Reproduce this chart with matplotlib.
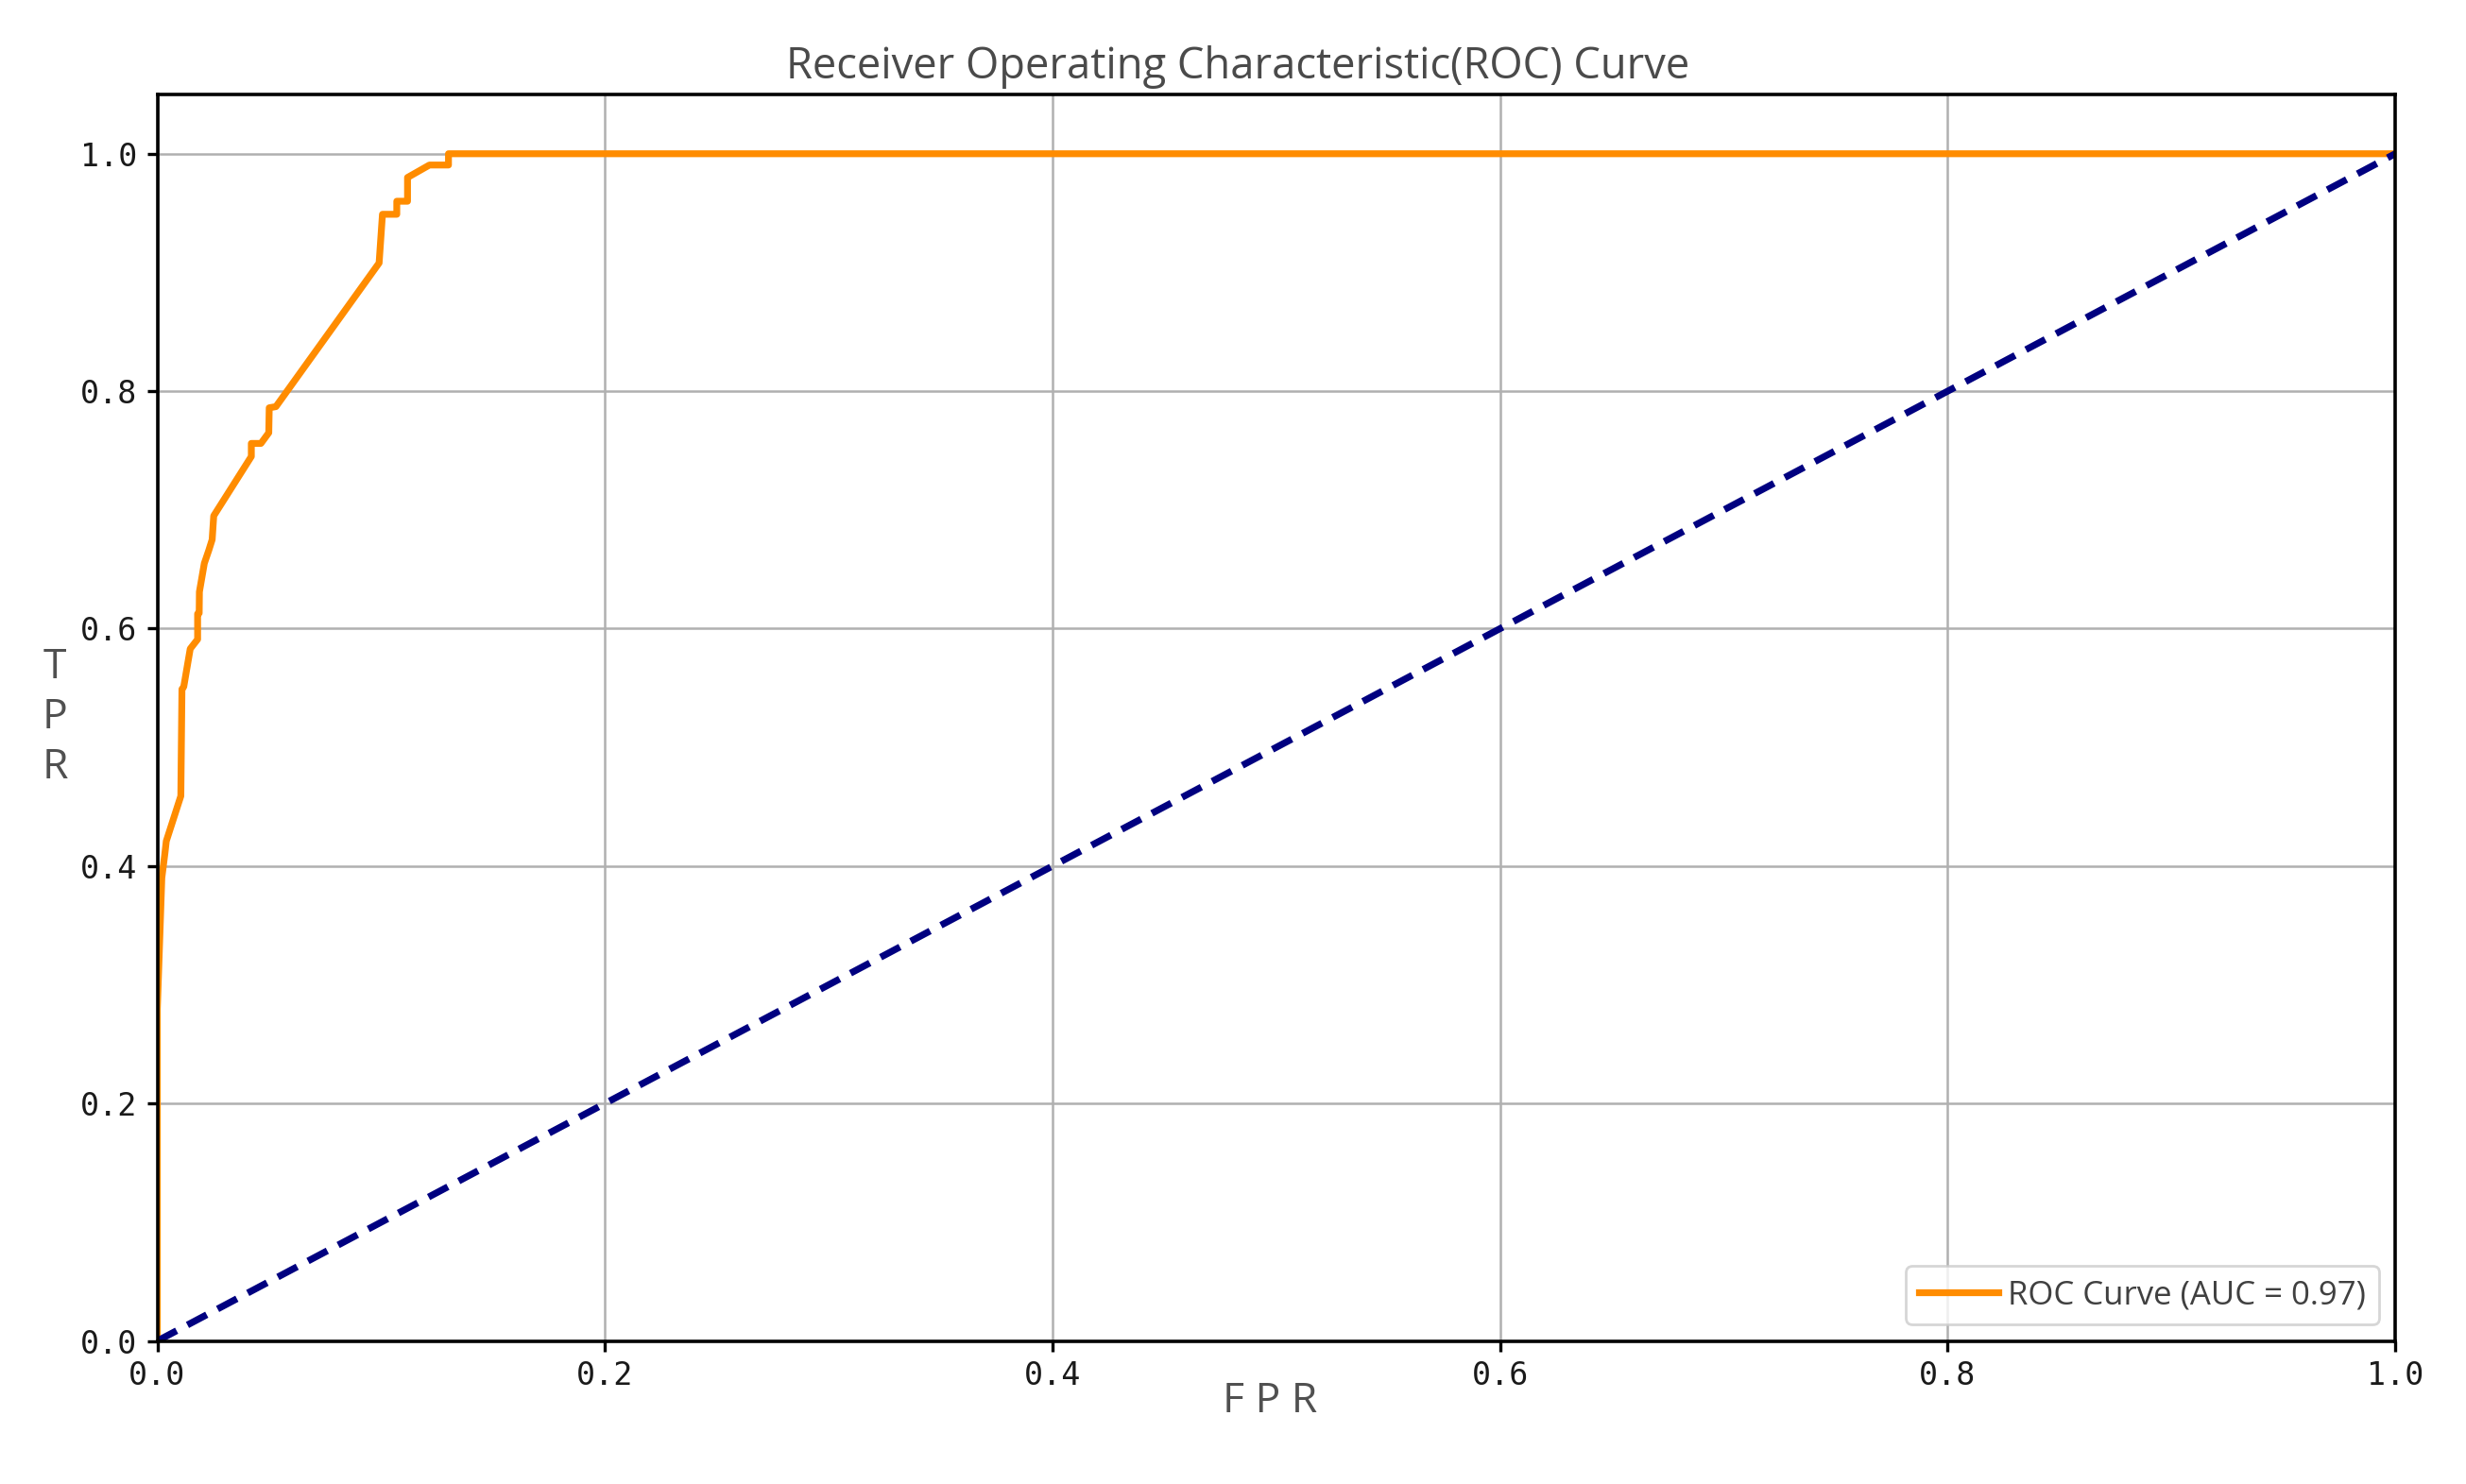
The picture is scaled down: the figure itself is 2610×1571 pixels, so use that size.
import matplotlib
matplotlib.use("Agg")
import matplotlib.pyplot as plt

# ROC curve points
fpr = [0.0, 0.0, 0.002, 0.0034, 0.004, 0.0105, 0.011, 0.0118, 0.0147, 0.018,
       0.018, 0.0187, 0.0188, 0.021, 0.023, 0.0245, 0.0252, 0.042, 0.042,
       0.0463, 0.0498, 0.050, 0.053, 0.0991, 0.1006, 0.107, 0.107, 0.1118,
       0.1118, 0.1216, 0.1301, 0.1301, 1.0]
tpr = [0.0, 0.28, 0.39, 0.411, 0.421, 0.459, 0.549, 0.551, 0.583, 0.591,
       0.6125, 0.613, 0.631, 0.655, 0.666, 0.675, 0.695, 0.745, 0.756,
       0.756, 0.765, 0.786, 0.787, 0.908, 0.949, 0.949, 0.960, 0.960,
       0.980, 0.9905, 0.9905, 1.0, 1.0]
auc_value = 0.97
diag = [0.0, 1.0]
ticks = [0.0, 0.2, 0.4, 0.6, 0.8, 1.0]

fig, ax = plt.subplots(figsize=(13.05, 7.855), dpi=200)
fig.subplots_adjust(left=0.0638, right=0.9713, top=0.9364, bottom=0.0964)

ax.plot(fpr, tpr, color='#ff8c00', lw=2.6, label=f'ROC Curve (AUC = {auc_value:.2f})')
ax.plot(diag, diag, color='navy', lw=2.6, linestyle='--', dashes=(3.2, 1.8))

ax.set_xlim(0.0, 1.0)
ax.set_ylim(0.0, 1.05)
ax.set_xticks(ticks)
ax.set_yticks(ticks)
ax.set_xticklabels([f'{t:.1f}' for t in ticks], family='DejaVu Sans Mono', fontsize=12, color='#1a1a1a')
ax.set_yticklabels([f'{t:.1f}' for t in ticks], family='DejaVu Sans Mono', fontsize=12, color='#1a1a1a')
ax.tick_params(length=4, width=1.2)
ax.grid(True, color='#b0b0b0', lw=0.9)
for s in ax.spines.values():
    s.set_linewidth(1.3)

ax.set_title('Receiver Operating Characteristic(ROC) Curve', family='Open Sans',
             fontsize=16.3, color='#4a4a4a', x=0.483, pad=6)
ax.set_xlabel('F P R', family='Open Sans', fontsize=16, color='#505050', va='top')
ax.xaxis.set_label_coords(0.497, -0.032)
ax.set_ylabel('T\nP\nR', family='Open Sans', fontsize=16, color='#505050',
              rotation=0, ha='center', va='center', linespacing=1.25)
ax.yaxis.set_label_coords(-0.0457, 0.50)

leg = ax.legend(loc='lower right', prop={'family': 'Open Sans', 'size': 12.5},
                handlelength=2.4, handletextpad=0.3, borderaxespad=0.5)
for t in leg.get_texts():
    t.set_color('#404040')

plt.savefig('out.png', dpi=200)
plt.close()
